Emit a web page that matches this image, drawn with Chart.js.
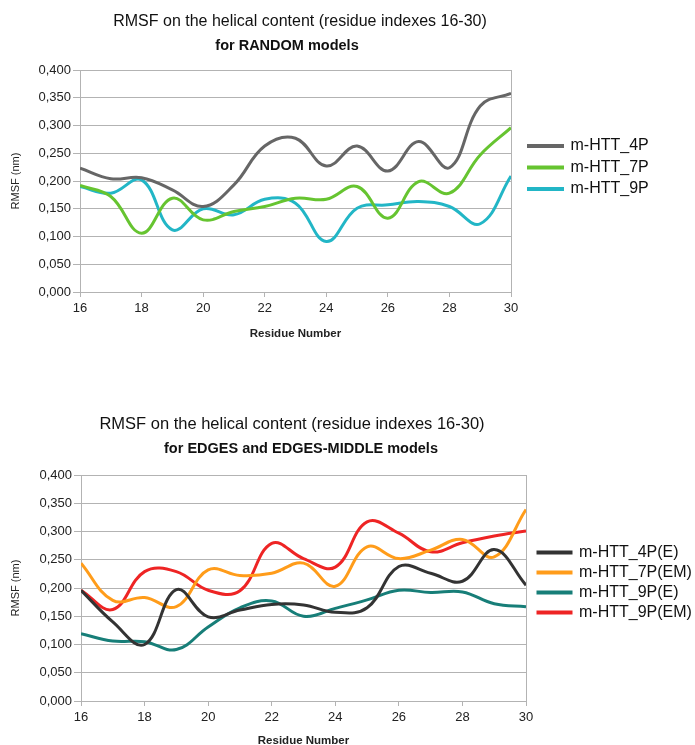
<!DOCTYPE html>
<html>
<head>
<meta charset="utf-8">
<script src="https://cdn.jsdelivr.net/npm/chart.js@4.4.1/dist/chart.umd.min.js"></script>
<style>
html, body { margin: 0; padding: 0; background: #fff; overflow: hidden; }
#page { position: relative; width: 695px; height: 745px; font-family: "Liberation Sans", Arial, sans-serif; color: #111; overflow: hidden; }
canvas { position: absolute; left: 0; }
.title { position: absolute; white-space: nowrap; transform: translate(-50%, -50%); }
.t1 { font-size: 16px; }
.t2 { font-size: 14.5px; font-weight: bold; }
</style>
</head>
<body>
<div id="page">
  <canvas id="randomChart" width="695" height="345" style="top:0"></canvas>
  <canvas id="edgesChart" width="695" height="360" style="top:390px"></canvas>
  <div class="title t1" style="left:300px;top:21px">RMSF on the helical content (residue indexes 16-30)</div>
  <div class="title t2" style="left:287px;top:45px">for RANDOM models</div>
  <div class="title t1" style="left:292px;top:423px;font-size:16.5px">RMSF on the helical content (residue indexes 16-30)</div>
  <div class="title t2" style="left:301px;top:448px">for EDGES and EDGES-MIDDLE models</div>
</div>
<script>
// residue numbers (x axis)
const residues = [16, 17, 18, 19, 20, 21, 22, 23, 24, 25, 26, 27, 28, 29, 30];
const xTicks = [16, 18, 20, 22, 24, 26, 28, 30];

// RANDOM models, RMSF (nm)
const random4P = [0.223, 0.204, 0.206, 0.184, 0.154, 0.193, 0.263, 0.277, 0.227, 0.263, 0.218, 0.271, 0.224, 0.335, 0.358];
const random7P = [0.192, 0.172, 0.106, 0.169, 0.130, 0.145, 0.154, 0.169, 0.167, 0.190, 0.133, 0.199, 0.178, 0.247, 0.296];
const random9P = [0.190, 0.178, 0.202, 0.112, 0.150, 0.139, 0.167, 0.160, 0.091, 0.151, 0.157, 0.163, 0.154, 0.123, 0.209];

// EDGES and EDGES-MIDDLE models, RMSF (nm)
const edges4PE = [0.196, 0.140, 0.100, 0.197, 0.149, 0.161, 0.171, 0.170, 0.157, 0.165, 0.238, 0.226, 0.212, 0.268, 0.205];
const edges7PEM = [0.244, 0.178, 0.183, 0.167, 0.232, 0.222, 0.226, 0.244, 0.203, 0.273, 0.252, 0.267, 0.286, 0.255, 0.339];
const edges9PE = [0.119, 0.106, 0.105, 0.091, 0.131, 0.165, 0.177, 0.150, 0.164, 0.179, 0.196, 0.192, 0.193, 0.172, 0.167];
const edges9PEM = [0.196, 0.162, 0.229, 0.229, 0.196, 0.195, 0.279, 0.252, 0.237, 0.317, 0.297, 0.264, 0.280, 0.292, 0.301];

const FONT = '"Liberation Sans", Arial, sans-serif';
const GRID = '#b3b3b3';

function points(values) {
    return values.map((v, i) => ({ x: residues[i], y: v }));
}

function line(label, values, color) {
    return {
        label: label,
        data: points(values),
        borderColor: color,
        backgroundColor: color,
        borderWidth: 3,
        pointRadius: 0,
        tension: 0.4,
        fill: false
    };
}

// natural width of a vertical legend, to place the plot's right edge
function legendWidth(names, size, boxW, pad) {
    const ctx = document.createElement('canvas').getContext('2d');
    ctx.font = 'normal ' + size + 'px ' + FONT;
    const w = Math.max(...names.map(n => ctx.measureText(n).width));
    return pad + boxW + size / 2 + w + 10;
}

function makeChart(id, datasets, box) {
    const names = datasets.map(d => d.label);
    const avail = 695 - box.right - box.frameW;
    const natural = legendWidth(names, 16, box.boxW, box.legendPad);
    const padRight = Math.max(0, avail - natural);

    return new Chart(document.getElementById(id), {
        type: 'line',
        data: { datasets: datasets },
        options: {
            responsive: false,
            animation: false,
            layout: { padding: { top: box.top, left: 0, right: padRight, bottom: 0 } },
            plugins: {
                tooltip: { enabled: false },
                legend: {
                    position: 'right',
                    align: 'start',
                    fullSize: false,
                    maxWidth: avail,
                    title: { display: true, text: '', padding: { top: box.legendTop, bottom: 0 } },
                    labels: {
                        boxWidth: box.boxW,
                        boxHeight: 1,
                        padding: box.legendPad,
                        color: '#111',
                        font: { family: FONT, size: 16 }
                    }
                }
            },
            scales: {
                x: {
                    type: 'linear',
                    min: 16,
                    max: 30,
                    afterBuildTicks: s => { s.ticks = xTicks.map(v => ({ value: v })); },
                    afterFit: s => { s.height = box.xH; },
                    grid: { drawOnChartArea: false, drawTicks: true, tickLength: 5, color: GRID },
                    border: { display: true, color: GRID },
                    ticks: { color: '#222', padding: 4, font: { family: FONT, size: 13 } },
                    title: {
                        display: true,
                        text: 'Residue Number',
                        color: '#222',
                        font: { family: FONT, size: 11.5, weight: 'bold' },
                        padding: { top: 0, bottom: box.xTitlePad }
                    }
                },
                y: {
                    min: 0,
                    max: 0.4,
                    afterFit: s => { s.width = box.left; },
                    ticks: {
                        stepSize: 0.05,
                        color: '#222',
                        padding: 2,
                        font: { family: FONT, size: 13 },
                        callback: v => v.toFixed(3).replace('.', ',')
                    },
                    grid: { color: GRID, tickLength: 7 },
                    border: { display: true, color: GRID },
                    title: {
                        display: true,
                        text: 'RMSF (nm)',
                        color: '#222',
                        font: { family: FONT, size: 11 },
                        padding: { top: 9, bottom: 0 }
                    }
                },
                // right frame of the plot, also spaces the legend
                frame: {
                    type: 'linear',
                    position: 'right',
                    display: true,
                    afterFit: s => { s.width = box.frameW; },
                    ticks: { display: false },
                    grid: { drawOnChartArea: false, drawTicks: false },
                    border: { display: true, color: GRID }
                }
            }
        }
    });
}

makeChart('randomChart', [
    line('m-HTT_4P', random4P, '#666666'),
    line('m-HTT_7P', random7P, '#66c430'),
    line('m-HTT_9P', random9P, '#22b6c6')
], { top: 70, left: 80, right: 511, frameW: 12, xH: 53, xTitlePad: 4, boxW: 34, legendPad: 5.5, legendTop: 48 });

makeChart('edgesChart', [
    line('m-HTT_4P(E)', edges4PE, '#333333'),
    line('m-HTT_7P(EM)', edges7PEM, '#ff9c1a'),
    line('m-HTT_9P(E)', edges9PE, '#177e78'),
    line('m-HTT_9P(EM)', edges9PEM, '#ee2424')
], { top: 85, left: 81, right: 526, frameW: 8, xH: 49, xTitlePad: 2, boxW: 33, legendPad: 4, legendTop: 51 });
</script>
</body>
</html>
